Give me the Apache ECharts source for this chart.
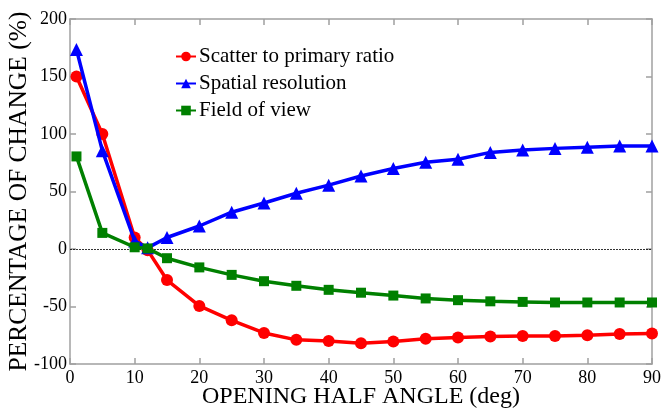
<!DOCTYPE html>
<html><head><meta charset="utf-8">
<script src="https://cdn.jsdelivr.net/npm/echarts@6/dist/echarts.min.js"></script>
<style>html,body{margin:0;padding:0;background:#fff}#c{width:662px;height:413px}</style>
</head><body><div id="c"></div>
<script>
const angles = [1, 5, 10, 12, 15, 20, 25, 30, 35, 40, 45, 50, 55, 60, 65, 70, 75, 80, 85, 90];
const scatterRatio = [150, 100, 10, -1, -27, -49.5, -62, -73, -79, -80, -82, -80.5, -78, -77, -76, -75.6, -75.6, -75, -74, -73.5];
const spatialRes = [173.5, 85.5, 7, 1, 10, 20, 32, 40, 48.5, 55.5, 63.5, 70, 75.5, 78, 84, 86, 87.5, 88.5, 89.5, 89.5];
const fieldOfView = [80.5, 14, 1.5, 0.5, -8, -16, -22.5, -28, -32, -35.5, -38, -40.5, -43, -44.5, -45.5, -46, -46.5, -46.5, -46.5, -46.5];
const xTicks = [0, 10, 20, 30, 40, 50, 60, 70, 80, 90];
const yTicks = [-100, -50, 0, 50, 100, 150, 200];
const seriesNames = ['Scatter to primary ratio', 'Spatial resolution', 'Field of view'];

const font = 'Liberation Serif';
const axisGray = '#a0a0a0';
const pairs = arr => angles.map((a, i) => [a, arr[i]]);

const chart = echarts.init(document.getElementById('c'));
const baseX = {
  type: 'value', min: 0, max: 90, interval: 10,
  axisLine: { show: true, onZero: false, lineStyle: { color: axisGray, width: 1.5 } },
  axisTick: { show: true, inside: true, length: 6, lineStyle: { color: axisGray, width: 1.5 } },
  splitLine: { show: false }
};
const baseY = {
  type: 'value', min: -100, max: 200, interval: 50,
  axisLine: { show: true, onZero: false, lineStyle: { color: axisGray, width: 1.5 } },
  axisTick: { show: true, inside: true, length: 6, lineStyle: { color: axisGray, width: 1.5 } },
  splitLine: { show: false }
};
chart.setOption({
  animation: false,
  backgroundColor: '#fff',
  textStyle: { fontFamily: font },
  grid: { left: 70, right: 10, top: 19, bottom: 49, containLabel: false, outerBoundsMode: 'none' },
  legend: {
    orient: 'vertical', left: 170, top: 41, itemGap: 6,
    itemWidth: 20, itemHeight: 12,
    textStyle: { fontFamily: font, fontSize: 21, color: '#000', padding: [0, 0, 0, -2] },
    data: seriesNames
  },
  xAxis: [
    Object.assign({}, baseX, {
      position: 'bottom',
      axisLabel: { color: '#000', fontFamily: font, fontSize: 18, margin: 5,
        formatter: v => xTicks.includes(v) ? String(v) : '' },
      name: 'OPENING HALF ANGLE (deg)', nameLocation: 'middle', nameGap: 21, nameMoveOverlap: false,
      nameTextStyle: { color: '#000', fontFamily: font, fontSize: 24, verticalAlign: 'top' }
    }),
    Object.assign({}, baseX, { position: 'top', axisLabel: { show: false } })
  ],
  yAxis: [
    Object.assign({}, baseY, {
      position: 'left',
      axisLabel: { color: '#000', fontFamily: font, fontSize: 18, margin: 3,
        formatter: v => yTicks.includes(v) ? String(v) : '' },
      name: 'PERCENTAGE OF CHANGE (%)', nameLocation: 'middle', nameGap: 38, nameMoveOverlap: false,
      nameTextStyle: { color: '#000', fontFamily: font, fontSize: 25.5 }
    }),
    Object.assign({}, baseY, { position: 'right', axisLabel: { show: false } })
  ],
  series: [
    {
      name: seriesNames[0], type: 'line', data: pairs(scatterRatio),
      symbol: 'circle', symbolSize: 12, color: '#ff0000',
      lineStyle: { width: 3.5, color: '#ff0000' }, itemStyle: { color: '#ff0000' }, z: 3,
      markLine: {
        silent: true, symbol: ['none', 'none'], label: { show: false },
        lineStyle: { color: '#000', type: [2, 1], width: 0.8 },
        data: [{ yAxis: 0 }]
      }
    },
    {
      name: seriesNames[1], type: 'line', data: pairs(spatialRes),
      symbol: 'triangle', symbolSize: 13, color: '#0000ff',
      lineStyle: { width: 3.5, color: '#0000ff' }, itemStyle: { color: '#0000ff' }, z: 4
    },
    {
      name: seriesNames[2], type: 'line', data: pairs(fieldOfView),
      symbol: 'rect', symbolSize: 10, color: '#008000',
      lineStyle: { width: 3.5, color: '#008000' }, itemStyle: { color: '#008000' }, z: 5
    }
  ]
});
</script></body></html>
